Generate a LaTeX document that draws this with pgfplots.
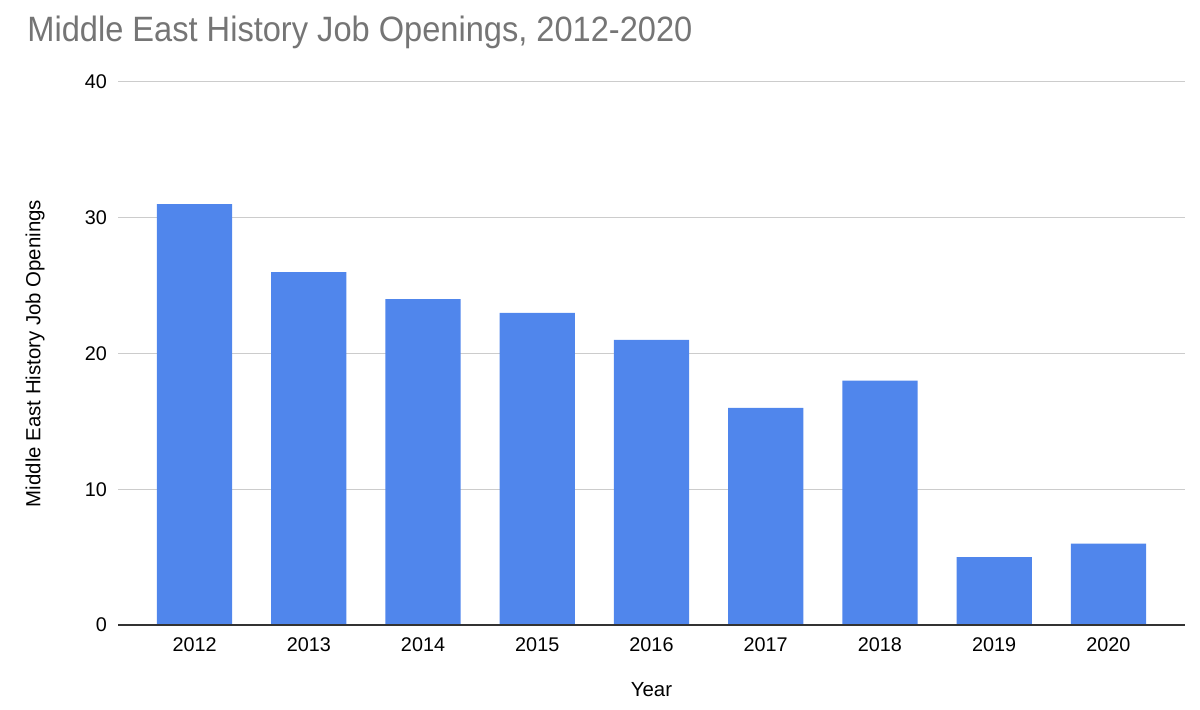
\documentclass[border=0pt]{standalone}
\usepackage{pgfplots}
\pgfplotsset{compat=1.18}
\usepackage{fontspec}
\setmainfont{Liberation Sans}
\definecolor{barblue}{HTML}{5086EC}
\definecolor{titlegray}{HTML}{757575}
\begin{document}
\begin{tikzpicture}[x=1pt,y=1pt]
\useasboundingbox (0,0) rectangle (600,355);
\node[anchor=base west, text=titlegray, inner sep=0] at (13.5,334) {\scalebox{1}[1.08]{\fontsize{16.3}{19}\selectfont Middle East History Job Openings, 2012-2020}};
\begin{axis}[
  at={(59pt,42.5pt)}, anchor=south west,
  scale only axis, width=533.5pt, height=271.5pt,
  ymin=0, ymax=40, ytick={0,10,20,30,40},
  xmin=-0.67, xmax=8.67,
  xtick=data,
  xticklabels={2012,2013,2014,2015,2016,2017,2018,2019,2020},
  ybar, bar width=0.66, bar shift=0pt,
  axis line style={draw=none},
  ymajorgrids, grid style={draw=black!20, line width=0.5pt},
  major tick length=0pt,
  tick label style={font=\fontsize{9.9}{12}\selectfont},
  /pgf/number format/assume math mode=true,
  yticklabel style={xshift=-2pt},
  xticklabel style={yshift=-3pt},
  xlabel={Year},
  ylabel={Middle East History Job Openings},
  label style={font=\fontsize{10.2}{12}\selectfont},
  xlabel style={at={(axis description cs:0.5,-0.1197)}, anchor=center},
  ylabel style={at={(axis description cs:-0.0778,0.5)}, anchor=center},
  clip=false,
]
\addplot[fill=barblue, draw=none] coordinates {
(0,31) (1,26) (2,24) (3,23) (4,21) (5,16) (6,18) (7,5) (8,6)
};
\draw[black!80, line width=0.75pt] (axis cs:-0.67,0) -- (axis cs:8.67,0);
\end{axis}
\end{tikzpicture}
\end{document}
